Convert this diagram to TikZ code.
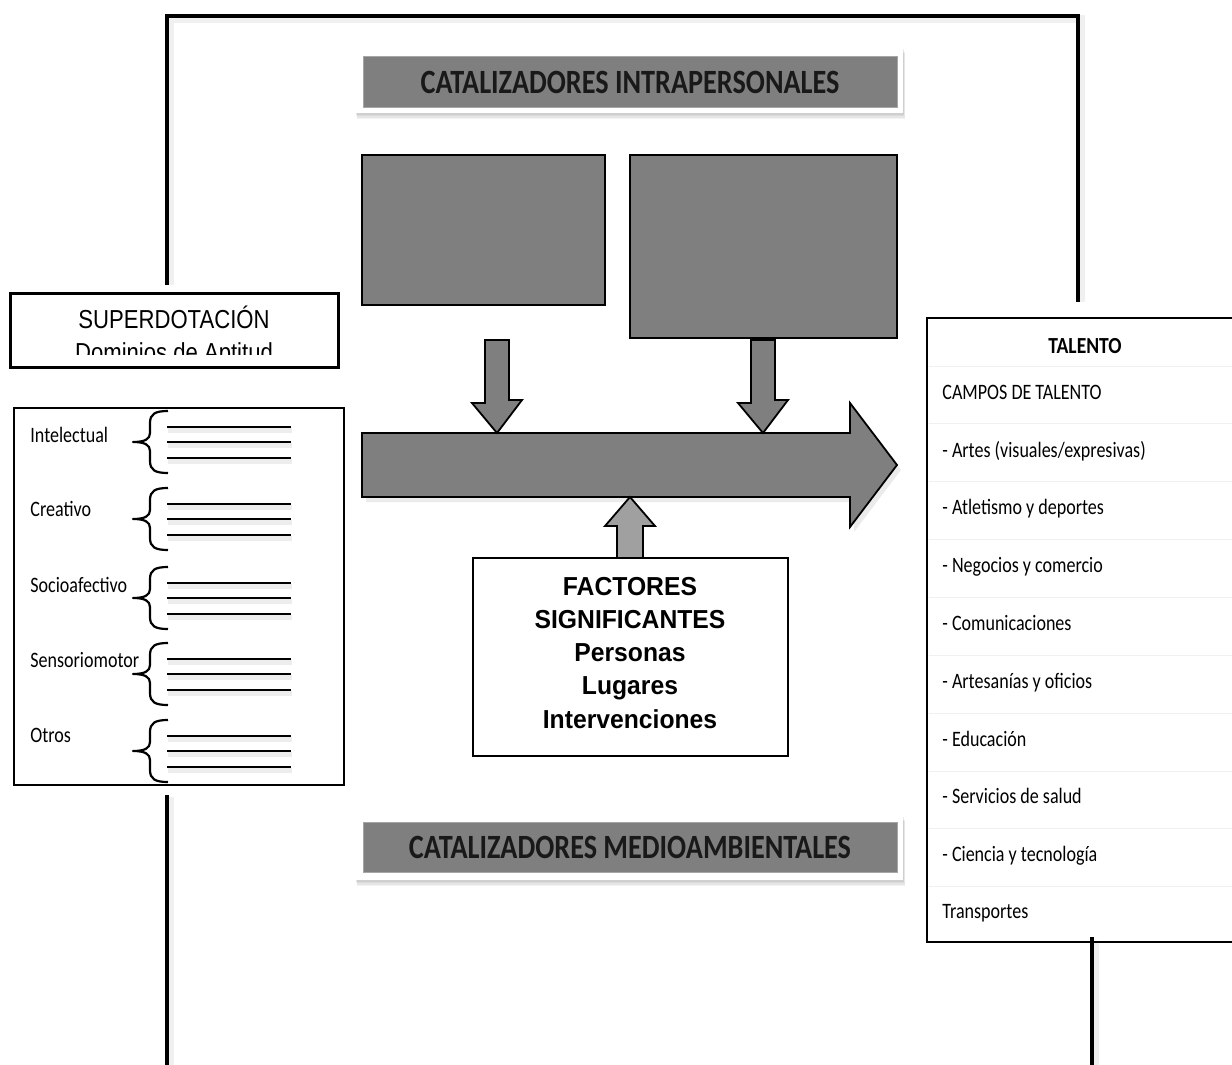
\documentclass[tikz,border=0pt]{standalone}
\usepackage{fontspec}
\usepackage{graphicx}
\setmainfont{Carlito}
\newfontfamily\arialfont{Liberation Sans}
\usetikzlibrary{calc}
\definecolor{bargray}{HTML}{7F7F7F}
\definecolor{liftgray}{HTML}{A0A0A0}
\newcommand\hsq[2]{\scalebox{#1}[1]{#2}}

\begin{document}
\begin{tikzpicture}[x=0.5pt,y=-0.5pt,
  frameline/.style={line width=2pt},
  frameshadow/.style={line width=4pt, draw=black, opacity=0.06},
  boxline/.style={draw=black, line width=1pt, fill=white},
  graybox/.style={draw=black, line width=1pt, fill=bargray},
  blockarrow/.style={draw=black, line width=0.9pt, fill=bargray, line join=miter},
  txt/.style={inner sep=0pt, anchor=base west, font=\fontsize{11}{13}\selectfont},
  bannertext/.style={inner sep=0pt, anchor=base, text=black!90, font=\fontsize{17}{20}\selectfont\bfseries},
  factor/.style={inner sep=0pt, anchor=base, font=\arialfont\bfseries\fontsize{13}{15}\selectfont},
  rowrule/.style={draw=black!6, line width=0.5pt},
  domline/.style={line width=1.3pt},
]
\useasboundingbox (0,0) rectangle (1232,1065);

% ---- outer frame lines -------------------------------------------------
\draw[frameshadow] (170,285) -- (170,19) -- (1081,19) -- (1081,302);
\draw[frameline] (167,285) -- (167,16) -- (1078,16) -- (1078,302);
\draw[frameshadow] (170,797) -- (170,1065);
\draw[frameshadow] (1095,940) -- (1095,1065);
\coordinate (frameBL) at (167,1065);
\coordinate (frameBR) at (1092,1065);

% ---- banner: intrapersonal catalysts -----------------------------------
\foreach \k in {1,...,4}
  \fill[black, opacity=0.05] (355+0.5*\k,47+1.6*\k) rectangle (903+0.5*\k,113+1.6*\k);
\fill[white] (355,47) rectangle (903,113);
\filldraw[fill=bargray, draw=black!35, line width=0.5pt] (363,57) rectangle (897,108);
\node[bannertext] (intra) at (630,94) {\hsq{0.83}{CATALIZADORES INTRAPERSONALES}};

% ---- banner: environmental catalysts -----------------------------------
\foreach \k in {1,...,4}
  \fill[black, opacity=0.05] (355+0.5*\k,815+1.6*\k) rectangle (903+0.5*\k,880+1.6*\k);
\fill[white] (355,815) rectangle (903,880);
\filldraw[fill=bargray, draw=black!35, line width=0.5pt] (363,822) rectangle (897,872);
\node[bannertext] (medio) at (630,858) {\hsq{0.83}{CATALIZADORES MEDIOAMBIENTALES}};

% ---- the two intrapersonal blocks --------------------------------------
\draw[graybox] (362,155) rectangle (605,305);
\draw[graybox] (630,155) rectangle (897,338);
\coordinate (blockA) at (497,305);
\coordinate (blockB) at (763,338);

% ---- development arrow and its feeders ---------------------------------
\fill[black, opacity=0.08] (366,438) -- (854,438) -- (854,408) -- (901,470) -- (854,532) -- (854,502) -- (366,502) -- cycle;
\draw[blockarrow] (362,433) -- (850,433) -- (850,403) -- (897,465) -- (850,527) -- (850,497) -- (362,497) -- cycle;
\coordinate (devTopA) at (497,433);
\coordinate (devTopB) at (763,433);
\coordinate (devBottom) at (630,497);

\draw[blockarrow] ($(blockA)+(-12,35)$) -- ++(24,0) -- ++(0,60) -- ++(13,0) -- (devTopA) -- ++(-25,-30) -- ++(13,0) -- cycle;
\draw[blockarrow] ($(blockB)+(-12,2)$) -- ++(24,0) -- ++(0,60) -- ++(13,0) -- (devTopB) -- ++(-25,-30) -- ++(13,0) -- cycle;

% ---- significant factors -----------------------------------------------
\draw[blockarrow, fill=liftgray] (617,560) -- (617,526) -- (605,526) -- (devBottom) -- (655,526) -- (643,526) -- (643,560);
\draw[boxline] (473,558) rectangle (788,756);
\node[factor] (f1) at (630,595) {\hsq{0.95}{FACTORES}};
\node[factor] (f2) at (630,628) {\hsq{0.95}{SIGNIFICANTES}};
\node[factor] (f3) at (630,661) {\hsq{0.95}{Personas}};
\node[factor] (f4) at (630,694) {\hsq{0.95}{Lugares}};
\node[factor] (f5) at (630,728) {\hsq{0.95}{Intervenciones}};

% ---- giftedness header -------------------------------------------------
\draw[draw=black, line width=1.5pt, fill=white] (10,293) rectangle (338,367);
\node[inner sep=0pt, anchor=base, font=\arialfont\fontsize{13}{15}\selectfont] (giftA) at (174,328) {\hsq{0.85}{SUPERDOTACIÓN}};
\begin{scope}
  \clip (12,330) rectangle (336,354);
  \node[inner sep=0pt, anchor=base, font=\arialfont\fontsize{13}{15}\selectfont] (giftB) at (174,361) {\hsq{0.85}{Dominios de Aptitud}};
\end{scope}

% ---- aptitude domains --------------------------------------------------
\draw[boxline] (14,408) rectangle (344,785);
\foreach \c/\name/\lab/\base in {442/dI/Intelectual/442, 519/dC/Creativo/516, 598/dS/Socioafectivo/592, 674/dM/Sensoriomotor/667, 751/dO/Otros/742}{
  \node[txt] (\name) at (30,\base) {\hsq{0.82}{\lab}};
  \draw[line width=1.1pt, line join=round]
    (168,\c-31) .. controls (155,\c-31) and (150,\c-28) .. (150,\c-19)
    -- (150,\c-9) .. controls (150,\c-3) and (145,\c) .. (133,\c)
    .. controls (145,\c) and (150,\c+3) .. (150,\c+9)
    -- (150,\c+19) .. controls (150,\c+28) and (155,\c+31) .. (168,\c+31);
  \foreach \d in {-15,0,16}{
    \draw[black, opacity=0.07, line width=2.5pt] (168,\c+\d+3) -- (292,\c+\d+3);
    \draw[domline] (167,\c+\d) -- (291,\c+\d);
  }
}

% ---- lower frame lines -------------------------------------------------
\coordinate (frameTL) at (167,795);
\draw[frameline] (frameTL) -- (frameBL);

% ---- talent fields -----------------------------------------------------
\draw[line width=1.2pt, fill=white] (1240,318) -- (927,318) -- (927,942) -- (1240,942);
\foreach \y in {366,423,481,539,597,655,713,771,828,886}
  \draw[rowrule] (929,\y) -- (1232,\y);
\node[inner sep=0pt, anchor=base, font=\fontsize{11.5}{13}\selectfont\bfseries] (tal) at (1085,353) {\hsq{0.85}{TALENTO}};
\node[txt] (t0) at (942,399) {\hsq{0.82}{CAMPOS DE TALENTO}};
\node[txt] (t1) at (942,457) {\hsq{0.82}{- Artes (visuales/expresivas)}};
\node[txt] (t2) at (942,514) {\hsq{0.82}{- Atletismo y deportes}};
\node[txt] (t3) at (942,572) {\hsq{0.82}{- Negocios y comercio}};
\node[txt] (t4) at (942,630) {\hsq{0.82}{- Comunicaciones}};
\node[txt] (t5) at (942,688) {\hsq{0.82}{- Artesanías y oficios}};
\node[txt] (t6) at (942,746) {\hsq{0.82}{- Educación}};
\node[txt] (t7) at (942,803) {\hsq{0.82}{- Servicios de salud}};
\node[txt] (t8) at (942,861) {\hsq{0.82}{- Ciencia y tecnología}};
\node[txt] (t9) at (942,918) {\hsq{0.82}{Transportes}};
\coordinate (talentOut) at (1092,937);
\draw[frameline] (talentOut) -- (frameBR);

\end{tikzpicture}
\end{document}
